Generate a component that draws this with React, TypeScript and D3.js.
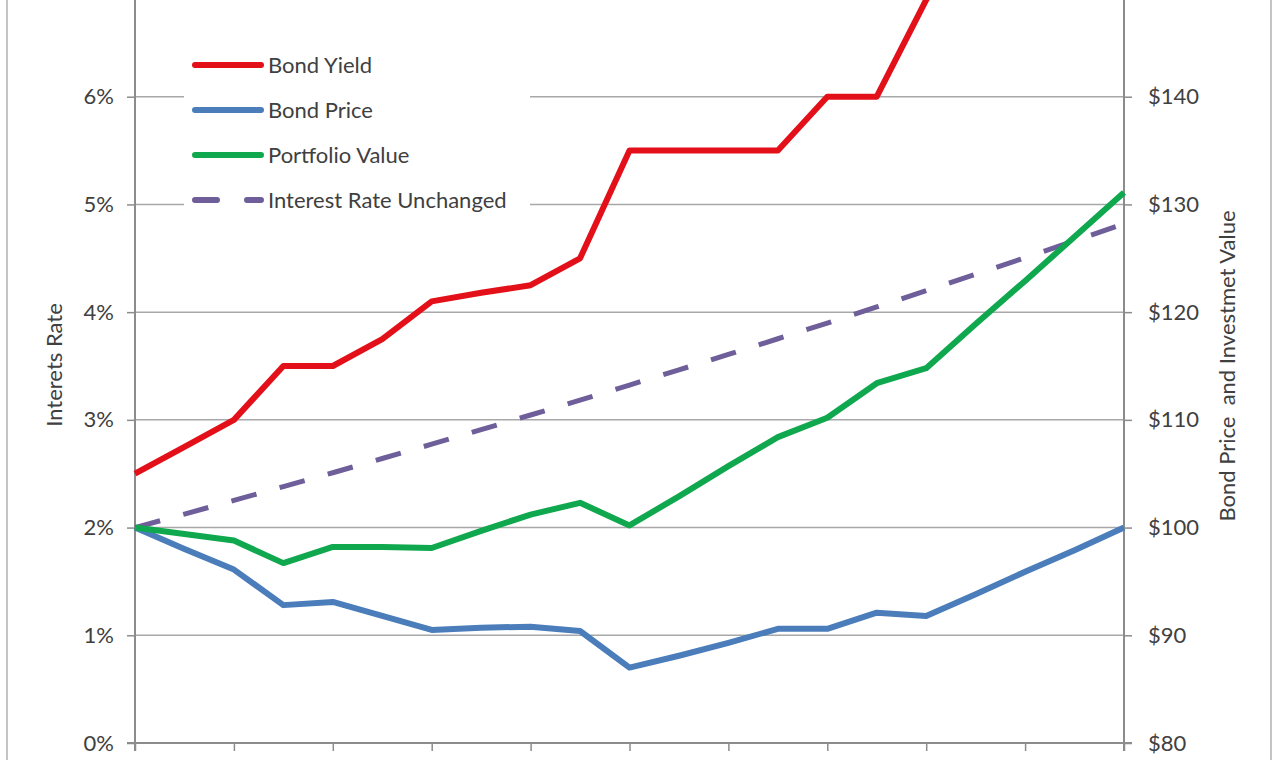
import React, { useEffect, useRef } from "react";
import * as d3 from "d3";

// half-year steps, 0..20
const steps = d3.range(0, 21);

// interest rate, % (left axis)
const bondYield = [2.5, 2.75, 3.0, 3.5, 3.5, 3.75, 4.1, 4.18, 4.25, 4.5, 5.5, 5.5, 5.5, 5.5, 6.0, 6.0, 6.9, 7.6, 8.0, 8.4, 8.8];
// $ values (right axis)
const bondPrice = [100, 98.0, 96.1, 92.8, 93.1, 91.8, 90.5, 90.7, 90.8, 90.4, 87.0, 88.1, 89.3, 90.6, 90.6, 92.1, 91.8, 93.8, 95.9, 97.9, 100];
const portfolioValue = [100, 99.4, 98.8, 96.7, 98.2, 98.2, 98.1, 99.7, 101.2, 102.3, 100.2, 102.9, 105.7, 108.4, 110.2, 113.4, 114.8, 118.9, 122.9, 127.0, 131.1];
const rateUnchanged = [100, 101.25, 102.52, 103.8, 105.09, 106.41, 107.74, 109.09, 110.45, 111.83, 113.23, 114.64, 116.08, 117.53, 118.99, 120.48, 121.99, 123.51, 125.06, 126.62, 128.2];

const leftTicks = [0, 1, 2, 3, 4, 5, 6];
const rightTicks = [80, 90, 100, 110, 120, 130, 140];
const xTicks = [0, 2, 4, 6, 8, 10, 12, 14, 16, 18, 20];

const legendItems = [
  { name: "Bond Yield", color: "#e3101a", dash: null },
  { name: "Bond Price", color: "#4a7dba", dash: null },
  { name: "Portfolio Value", color: "#10a84e", dash: null },
  { name: "Interest Rate Unchanged", color: "#6e5e9a", dash: "26,28" },
];

const W = 1278;
const H = 760;
const FONT = "Lato, 'Open Sans', sans-serif";
const FS = 22;

export default function App() {
  const ref = useRef<SVGSVGElement | null>(null);

  useEffect(() => {
    const svg = d3.select(ref.current);
    svg.selectAll("*").remove();

    const left = 135;
    const right = 1124;
    const x = d3.scaleLinear().domain([0, 20]).range([left, right]);
    const yL = d3.scaleLinear().domain([0, 7]).range([743, -11]);
    const yR = d3.scaleLinear().domain([80, 150]).range([743, -11]);

    svg.append("rect").attr("width", W).attr("height", H).attr("fill", "#fff");

    // sheet border lines
    svg.append("line").attr("x1", 7).attr("x2", 7).attr("y1", 0).attr("y2", H).attr("stroke", "#c4c4c4").attr("stroke-width", 2);
    svg.append("line").attr("x1", 1271).attr("x2", 1271).attr("y1", 0).attr("y2", H).attr("stroke", "#c4c4c4").attr("stroke-width", 2);

    // gridlines
    svg.append("g")
      .selectAll("line")
      .data(leftTicks.filter((d) => d > 0))
      .join("line")
      .attr("x1", left)
      .attr("x2", right)
      .attr("y1", (d) => yL(d))
      .attr("y2", (d) => yL(d))
      .attr("stroke", "#a8a8a8")
      .attr("stroke-width", 1.5);

    // left axis
    const gL = svg.append("g").attr("transform", `translate(${left},0)`)
      .call(d3.axisLeft(yL).tickValues(leftTicks).tickSize(8).tickPadding(13).tickFormat((d) => `${d}%`));
    // right axis
    const gR = svg.append("g").attr("transform", `translate(${right},0)`)
      .call(d3.axisRight(yR).tickValues(rightTicks).tickSize(8).tickPadding(16).tickFormat((d) => `$${d}`));
    // bottom axis
    const gB = svg.append("g").attr("transform", `translate(0,${yL(0)})`)
      .call(d3.axisBottom(x).tickValues(xTicks).tickSize(8).tickFormat(() => ""));

    [gL, gR, gB].forEach((g) => {
      g.select(".domain").attr("stroke", "#8c8c8c").attr("stroke-width", 2);
      g.selectAll(".tick line").attr("stroke", "#8c8c8c").attr("stroke-width", 1.5);
      g.selectAll("text").attr("font-family", FONT).attr("font-size", FS).attr("fill", "#404040");
    });
    gL.select(".domain").attr("d", `M-8,743H0V-11`);
    gR.select(".domain").attr("d", `M8,743H0V-11`);
    gB.select(".domain").attr("d", `M${left},8V0H${right}V8`);

    // axis titles
    svg.append("text")
      .attr("transform", `translate(62,365) rotate(-90)`)
      .attr("text-anchor", "middle")
      .attr("font-family", FONT).attr("font-size", FS).attr("fill", "#404040")
      .text("Interets Rate");
    svg.append("text")
      .attr("transform", `translate(1235,366) rotate(-90)`)
      .attr("text-anchor", "middle")
      .attr("font-family", FONT).attr("font-size", FS).attr("fill", "#404040")
      .attr("xml:space", "preserve")
      .text("Bond Price  and Investmet Value");

    // clip to plot
    svg.append("clipPath").attr("id", "plot")
      .append("rect").attr("x", left - 5).attr("y", -11).attr("width", right - left + 10).attr("height", 760);

    const lineL = d3.line<number>().x((_, i) => x(steps[i])).y((d) => yL(d));
    const lineR = d3.line<number>().x((_, i) => x(steps[i])).y((d) => yR(d));

    const plot = svg.append("g").attr("clip-path", "url(#plot)");
    plot.append("path").attr("d", lineR(rateUnchanged)).attr("fill", "none")
      .attr("stroke", legendItems[3].color).attr("stroke-width", 5).attr("stroke-dasharray", "26,24");
    plot.append("path").attr("d", lineR(bondPrice)).attr("fill", "none")
      .attr("stroke", legendItems[1].color).attr("stroke-width", 6).attr("stroke-linejoin", "round");
    plot.append("path").attr("d", lineR(portfolioValue)).attr("fill", "none")
      .attr("stroke", legendItems[2].color).attr("stroke-width", 6).attr("stroke-linejoin", "round");
    plot.append("path").attr("d", lineL(bondYield)).attr("fill", "none")
      .attr("stroke", legendItems[0].color).attr("stroke-width", 6).attr("stroke-linejoin", "round");

    // legend
    const lg = svg.append("g");
    lg.append("rect").attr("x", 184).attr("y", 40).attr("width", 346).attr("height", 182).attr("fill", "#fff");
    const rows = lg.selectAll("g.item").data(legendItems).join("g")
      .attr("transform", (_, i) => `translate(0,${65 + i * 45})`);
    rows.append("line")
      .attr("x1", 195).attr("x2", 261).attr("y1", 0).attr("y2", 0)
      .attr("stroke", (d) => d.color).attr("stroke-width", 6)
      .attr("stroke-linecap", "round")
      .attr("stroke-dasharray", (d) => (d.dash ? "22,30" : null));
    rows.append("text")
      .attr("x", 268).attr("y", 0).attr("dy", "0.35em")
      .attr("font-family", FONT).attr("font-size", FS).attr("fill", "#404040")
      .text((d) => d.name);
  }, []);

  return (
    <svg
      ref={ref}
      width={W}
      height={H}
      style={{ position: "fixed", left: 0, top: 0, display: "block" }}
    />
  );
}
